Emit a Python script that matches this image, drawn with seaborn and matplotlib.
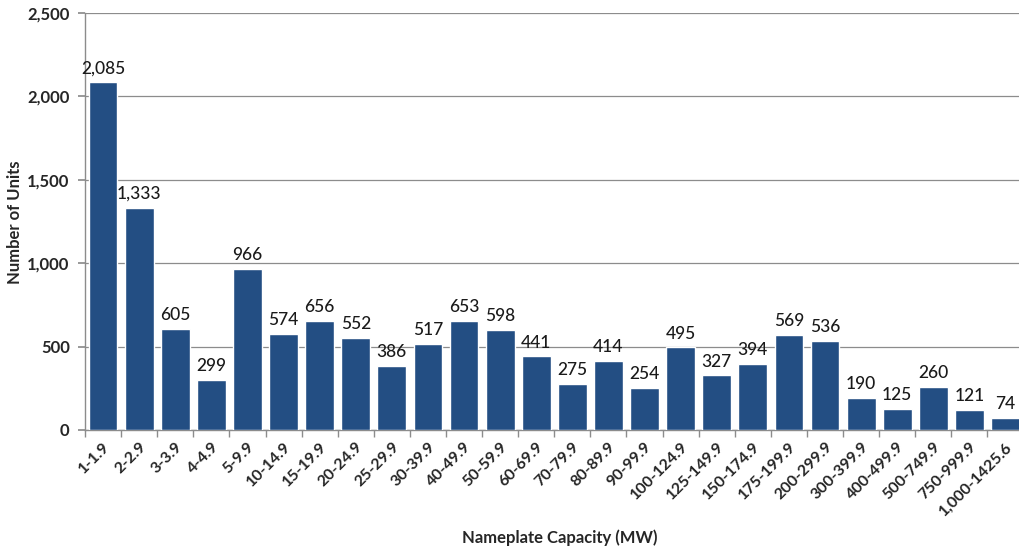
import matplotlib
matplotlib.use("Agg")
import matplotlib.pyplot as plt
import seaborn as sns
import pandas as pd

categories = ["1-1.9", "2-2.9", "3-3.9", "4-4.9", "5-9.9", "10-14.9", "15-19.9",
              "20-24.9", "25-29.9", "30-39.9", "40-49.9", "50-59.9", "60-69.9",
              "70-79.9", "80-89.9", "90-99.9", "100-124.9", "125-149.9",
              "150-174.9", "175-199.9", "200-299.9", "300-399.9", "400-499.9",
              "500-749.9", "750-999.9", "1,000-1425.6"]
units = [2085, 1333, 605, 299, 966, 574, 656, 552, 386, 517, 653, 598, 441,
         275, 414, 254, 495, 327, 394, 569, 536, 190, 125, 260, 121, 74]
yticks = [0, 500, 1000, 1500, 2000, 2500]

sns.set_theme(style="white")
plt.rcParams['font.family'] = ['Lato', 'DejaVu Sans']

df = pd.DataFrame({"cat": categories, "units": units})

L, R, T, B = 85, 1023.6, 13, 430
fig = plt.figure(figsize=(10.2, 5.52), dpi=100)
ax = fig.add_axes([L/1020, 1 - B/552, (R - L)/1020, (B - T)/552])

sns.barplot(data=df, x="cat", y="units", color="#234E83", saturation=1,
            width=0.8, ax=ax, zorder=3)

ax.set_ylim(0, 2500)
ax.set_xlim(-0.5, len(categories) - 0.5)
ax.set_yticks(yticks)
ax.set_yticklabels([f"{v:,}" for v in yticks], fontsize=12, fontweight="bold")
ax.yaxis.grid(True, color="#8c8c8c", linewidth=0.9, zorder=0)
ax.set_axisbelow(True)

# category boundary ticks
ax.set_xticks([i - 0.5 for i in range(len(categories))], minor=True)
ax.tick_params(axis="x", which="minor", length=5, color="#8c8c8c", width=1, bottom=True)
ax.set_xticks(range(len(categories)))
ax.set_xticklabels(categories, rotation=45, ha="right", rotation_mode="anchor",
                   fontsize=11.5, fontweight="bold")
ax.tick_params(axis="x", which="major", length=0, pad=7)
ax.tick_params(axis="y", length=5, color="#8c8c8c", left=True, pad=6)

for s in ["top", "right"]:
    ax.spines[s].set_visible(False)
for s in ["left", "bottom"]:
    ax.spines[s].set_color("#8c8c8c")
    ax.spines[s].set_linewidth(1)

for i, v in enumerate(units):
    ax.text(i, v + 35, f"{v:,}", ha="center", va="bottom", fontsize=12.5,
            color="#1a1a1a", fontweight="medium")

ax.set_xlabel("Nameplate Capacity (MW)", fontsize=12, fontweight="bold")
ax.set_ylabel("Number of Units", fontsize=12, fontweight="bold")
ax.xaxis.set_label_coords((560 - L) / (R - L), -(529 - B) / (B - T))
ax.yaxis.set_label_coords(-(L - 23) / (R - L), (B - 222) / (B - T))

fig.savefig("out.png", dpi=100)
